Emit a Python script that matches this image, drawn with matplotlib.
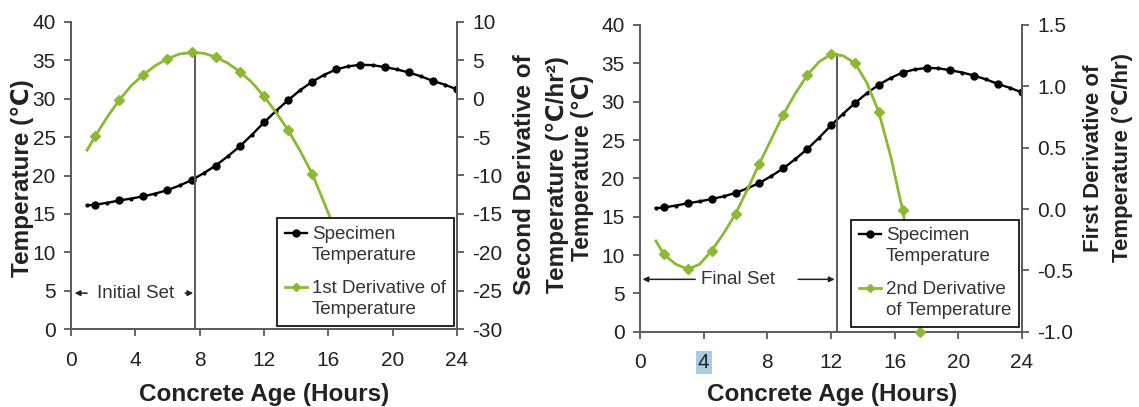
import matplotlib
matplotlib.use("Agg")
import matplotlib.pyplot as plt
from matplotlib.lines import Line2D
from matplotlib.legend_handler import HandlerLine2D

plt.rcParams["font.family"] = ["Liberation Sans", "DejaVu Sans"]
plt.rcParams["axes.unicode_minus"] = False

# Concrete age (hours) at which readings are plotted
hours = [1.0, 1.5, 2.25, 3.0, 3.75, 4.5, 5.25, 6.0, 6.75, 7.5, 8.25, 9.0,
         9.75, 10.5, 11.25, 12.0, 12.75, 13.5, 14.25, 15.0, 15.75, 16.5,
         17.25, 18.0, 18.75, 19.5, 20.25, 21.0, 21.75, 22.5, 23.25, 24.0]

# Specimen temperature (deg C)
specimen_temp = [16.1, 16.2, 16.45, 16.75, 17.0, 17.3, 17.65, 18.1, 18.7, 19.4,
                 20.3, 21.3, 22.5, 23.8, 25.3, 26.9, 28.4, 29.8, 31.1, 32.2,
                 33.1, 33.8, 34.2, 34.4, 34.35, 34.1, 33.8, 33.4, 32.9, 32.3,
                 31.8, 31.2]

# First derivative of temperature (left chart)
d1_hours = [1.0, 1.5, 2.25, 3.0, 3.75, 4.5, 5.25, 6.0, 6.75, 7.5, 8.25, 9.0,
            9.75, 10.5, 11.25, 12.0, 12.75, 13.5, 14.25, 15.0, 15.75, 16.5]
d1_values = [-6.7, -4.9, -2.4, -0.2, 1.7, 3.1, 4.3, 5.2, 5.8, 6.0, 5.9, 5.4,
             4.6, 3.5, 2.1, 0.3, -1.8, -4.1, -6.8, -9.8, -13.6, -17.5]

# Second derivative of temperature (right chart)
d2_hours = [1.0, 1.5, 2.25, 3.0, 3.75, 4.5, 5.25, 6.0, 6.75, 7.5, 8.25, 9.0,
            9.75, 10.5, 11.25, 12.0, 12.75, 13.5, 14.25, 15.0, 15.75, 16.5,
            17.25, 17.6]
d2_values = [-0.26, -0.37, -0.45, -0.49, -0.45, -0.34, -0.2, -0.04, 0.16, 0.37,
             0.57, 0.77, 0.94, 1.09, 1.2, 1.26, 1.25, 1.19, 1.03, 0.79, 0.43,
             -0.01, -0.55, -1.0]

initial_set_hour = 7.7
final_set_hour = 12.35

x_ticks = [0, 4, 8, 12, 16, 20, 24]
temp_ticks = [0, 5, 10, 15, 20, 25, 30, 35, 40]
d1_ticks = [-30, -25, -20, -15, -10, -5, 0, 5, 10]
d2_ticks = [-1.0, -0.5, 0.0, 0.5, 1.0, 1.5]

GREEN = "#8cb935"
SPINE = "#5a5a5a"
TEXT = "#222222"
TICK_FS = 15
LAB_FS = 17.5
LEG_FS = 13.5

W, H = 1139, 407
fig = plt.figure(figsize=(W / 100, H / 100), dpi=100)


def px(x, y):
    return x / W, 1 - y / H


class FirstLineHandler(HandlerLine2D):
    """Line handle aligned with the first line of a two-line label."""

    def create_artists(self, legend, orig_handle, xdescent, ydescent,
                       width, height, fontsize, trans):
        artists = super().create_artists(legend, orig_handle, xdescent,
                                         ydescent, width, height, fontsize,
                                         trans)
        for a in artists:
            a.set_ydata([y + 0.65 * fontsize for y in a.get_ydata()])
        return artists


def style_axes(ax, ax2):
    for a in (ax, ax2):
        a.spines["top"].set_visible(False)
        for s in a.spines.values():
            s.set_color(SPINE)
            s.set_linewidth(1.4)
        a.tick_params(direction="out", length=5, width=1.3, color=SPINE,
                      labelsize=TICK_FS, labelcolor=TEXT, pad=6)
    ax2.spines["left"].set_visible(False)
    ax2.spines["bottom"].set_visible(False)
    ax.spines["right"].set_visible(False)
    ax.tick_params(axis="x", pad=10.5)


def draw_panel(rect, d_hours, d_vals, d_lim, d_ticks, d_fmt, green_label,
               set_hour, set_text, set_y, text_x, arrow_l, arrow_r, leg_anchor):
    ax = fig.add_axes(rect)
    ax.plot(hours, specimen_temp, color="black", lw=1.7, marker="o", ms=2,
            zorder=3)
    ax.plot(hours[1::2], specimen_temp[1::2], "o", color="black", ms=5,
            zorder=3)
    ax.set_xlim(0, 24)
    ax.set_ylim(0, 40)
    ax.set_xticks(x_ticks)
    ax.set_yticks(temp_ticks)

    ax2 = ax.twinx()
    ax2.plot(d_hours, d_vals, color=GREEN, lw=2.0, zorder=3, clip_on=False)
    ax2.plot(d_hours[1::2], d_vals[1::2], "D", color=GREEN, ms=5,
             zorder=3, clip_on=False)
    ax2.set_ylim(*d_lim)
    ax2.set_yticks(d_ticks)
    ax2.set_yticklabels([d_fmt.format(v) for v in d_ticks])
    style_axes(ax, ax2)

    # vertical marker at the set time, from the axis up to the curve peak
    ax2.plot([set_hour, set_hour], [d_lim[0], max(d_vals)], color=SPINE,
             lw=1.4, zorder=2)

    ax.text(text_x, set_y, set_text, ha="center", va="center",
            fontsize=LEG_FS, color="#333333")
    ap = dict(arrowstyle="-|>", color="#222222", lw=1.1, mutation_scale=8,
              shrinkA=0, shrinkB=0)
    ax.annotate("", xy=(arrow_l[1], set_y), xytext=(arrow_l[0], set_y),
                arrowprops=ap)
    ax.annotate("", xy=(arrow_r[1], set_y), xytext=(arrow_r[0], set_y),
                arrowprops=ap)

    handles = [Line2D([], [], color="black", lw=1.7, marker="o", ms=5),
               Line2D([], [], color=GREEN, lw=2.0, marker="D", ms=4)]
    labels = ["Specimen\nTemperature", green_label]
    leg = ax2.legend(handles, labels, loc="lower right",
                     bbox_to_anchor=leg_anchor, fontsize=LEG_FS,
                     frameon=True, fancybox=False, framealpha=1,
                     edgecolor="black", borderpad=0.42, labelspacing=0.85,
                     handlelength=1.2, handletextpad=0.25, borderaxespad=0,
                     labelcolor="#333333",
                     handler_map={Line2D: FirstLineHandler()})
    for t in leg.get_texts():
        t.set_linespacing(1.3)
    leg.get_frame().set_linewidth(1.2)
    leg.set_zorder(10)
    return ax, ax2


axL, axL2 = draw_panel([71 / W, 1 - 329.3 / H, 386 / W, 307.6 / H],
                       d1_hours, d1_values, (-30, 10), d1_ticks, "{:g}",
                       "1st Derivative of\nTemperature",
                       initial_set_hour, "Initial Set", 4.7, 4.0,
                       (1.0, 0.23), (7.1, 7.6), (0.992, 0.012))

axR, axR2 = draw_panel([640 / W, 1 - 331.7 / H, 382 / W, 306.7 / H],
                       d2_hours, d2_values, (-1.0, 1.5), d2_ticks, "{:.1f}",
                       "2nd Derivative\nof Temperature",
                       final_set_hour, "Final Set", 6.83, 6.15,
                       (3.47, 0.16), (9.94, 12.23), (0.992, 0.015))

# highlighted tick label
axR.get_xticklabels()[1].set_bbox(dict(boxstyle="square,pad=0.1",
                                       fc="#a9cce3", ec="none"))

xlab = dict(ha="center", va="center", fontsize=LAB_FS, fontweight="bold",
            color=TEXT)
fig.text(*px(264, 394), "Concrete Age (Hours)", **xlab)
fig.text(*px(832, 394), "Concrete Age (Hours)", **xlab)

ylab = dict(rotation=90, ha="center", va="center", fontweight="bold",
            color=TEXT, linespacing=1.5, multialignment="center")
fig.text(*px(22, 178), "Temperature (℃)", fontsize=LAB_FS, **ylab)
fig.text(*px(541, 175), "Second Derivative of\nTemperature (℃/hr²)",
         fontsize=LAB_FS, **ylab)
fig.text(*px(583, 168), "Temperature (℃)", fontsize=16.5, **ylab)
fig.text(*px(1108, 158), "First Derivative of\nTemperature (℃/hr)",
         fontsize=16, **ylab)

fig.savefig("out.png", dpi=100)
